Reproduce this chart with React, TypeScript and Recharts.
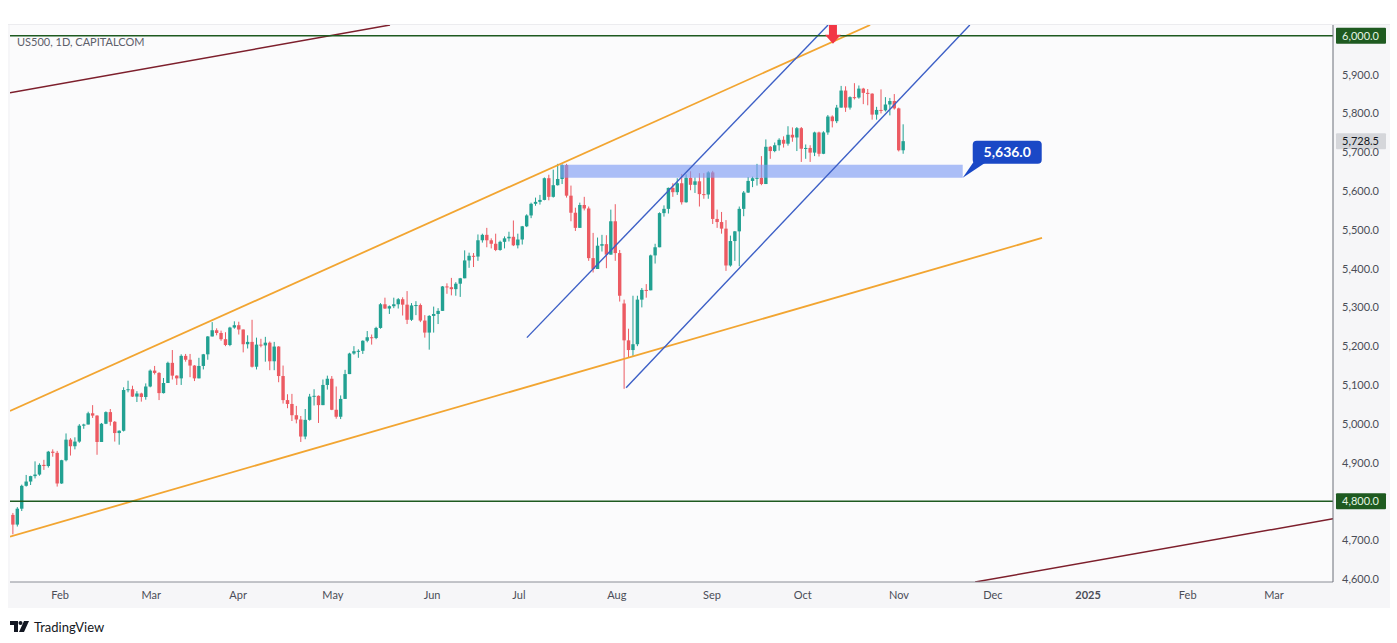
import React from "react";
import {
  ComposedChart,
  Bar,
  XAxis,
  YAxis,
  ReferenceLine,
  ReferenceArea,
  ReferenceDot
} from "recharts";

// layout
const W = 1397;
const H = 643;
const PLOT_L = 10;
const PLOT_T = 25;
const PLOT_R = 1333;
const PLOT_B = 582;

const UP = "#22a192";
const DOWN = "#ec5a62";
const FONT = "Lato, 'Open Sans', sans-serif";

// daily candles, US500 (17 Jan 2024 -> 1 Nov 2024), one entry per trading day
const opens = [
  4765, 4740, 4781, 4840, 4851, 4865, 4869, 4894, 4891, 4928, 4925,
  4846, 4906, 4959, 4942, 4954, 4995, 4998, 5027, 5021, 4953, 5000, 5030, 5005, 4976, 4982, 5087, 5089, 5070, 5078, 5069,
  5096, 5137, 5131, 5079, 5105, 5157, 5124, 5117, 5175, 5165, 5150, 5117, 5149, 5179, 5225, 5241, 5234, 5218, 5203, 5248,
  5254, 5243, 5205, 5211, 5147, 5204, 5202, 5209, 5161, 5199, 5123, 5061, 5051, 5022, 5011, 4967, 5010, 5070, 5072, 5048, 5100, 5116,
  5036, 5018, 5064, 5128, 5181, 5187, 5188, 5214, 5223, 5221, 5247, 5308, 5297, 5303, 5308, 5321, 5307, 5268, 5305, 5306, 5266, 5235,
  5278, 5283, 5291, 5354, 5352, 5347, 5361, 5375, 5421, 5433, 5431, 5473, 5487, 5473, 5464, 5448, 5469, 5478, 5482,
  5460, 5475, 5509, 5537, 5567, 5572, 5577, 5633, 5585, 5615, 5631, 5667, 5588, 5544, 5505, 5564, 5555, 5427, 5399, 5459, 5463, 5436,
  5522, 5440, 5310, 5215, 5190, 5205, 5320, 5345, 5344, 5434, 5455, 5543, 5554, 5608, 5597, 5620, 5571, 5634, 5616, 5625, 5592, 5591,
  5648, 5528, 5520, 5503, 5408, 5471, 5496, 5554, 5596, 5626, 5633, 5634, 5618, 5714, 5703, 5718, 5732, 5722, 5745, 5738,
  5762, 5709, 5711, 5699, 5751, 5696, 5751, 5792, 5780, 5815, 5859, 5815, 5842, 5841, 5864, 5853, 5851, 5797, 5809, 5808, 5823, 5832, 5813,
  5705
];
const highs = [
  4770, 4785, 4843, 4868, 4866, 4903, 4898, 4907, 4930, 4934, 4930,
  4907, 4975, 4963, 4965, 4999, 5000, 5031, 5048, 5022, 5002, 5032, 5038, 5007, 4983, 5094, 5111, 5098, 5084, 5080, 5104,
  5140, 5149, 5133, 5118, 5160, 5190, 5125, 5179, 5180, 5180, 5151, 5170, 5180, 5226, 5262, 5246, 5240, 5236, 5250, 5264,
  5263, 5243, 5228, 5268, 5222, 5219, 5224, 5212, 5211, 5200, 5150, 5076, 5077, 5046, 5020, 5038, 5077, 5089, 5073, 5114, 5124, 5123,
  5096, 5073, 5139, 5183, 5200, 5192, 5215, 5239, 5230, 5250, 5311, 5325, 5305, 5325, 5324, 5326, 5342, 5311, 5316, 5310, 5280, 5280,
  5302, 5298, 5355, 5362, 5376, 5365, 5376, 5447, 5441, 5440, 5488, 5490, 5505, 5478, 5490, 5472, 5483, 5495, 5524,
  5490, 5510, 5540, 5570, 5583, 5590, 5635, 5642, 5655, 5670, 5669, 5670, 5614, 5557, 5570, 5585, 5560, 5492, 5480, 5487, 5486, 5552,
  5566, 5448, 5320, 5245, 5330, 5330, 5350, 5360, 5436, 5464, 5545, 5563, 5609, 5620, 5633, 5644, 5643, 5651, 5635, 5646, 5646, 5651,
  5652, 5552, 5546, 5525, 5485, 5497, 5560, 5600, 5636, 5637, 5670, 5690, 5733, 5716, 5725, 5736, 5741, 5767, 5764, 5765,
  5765, 5720, 5718, 5753, 5753, 5754, 5796, 5795, 5822, 5871, 5870, 5844, 5878, 5872, 5866, 5863, 5852, 5817, 5862, 5842, 5840, 5850, 5815,
  5772
];
const lows = [
  4715, 4735, 4775, 4838, 4842, 4859, 4866, 4881, 4887, 4915, 4838,
  4845, 4903, 4918, 4934, 4951, 4987, 4998, 5015, 4920, 4953, 4999, 4995, 4954, 4946, 4980, 5081, 5069, 5056, 5057, 5062,
  5094, 5127, 5061, 5078, 5105, 5114, 5100, 5100, 5160, 5120, 5110, 5117, 5140, 5165, 5225, 5228, 5214, 5200, 5200, 5245,
  5230, 5184, 5194, 5145, 5140, 5197, 5160, 5138, 5138, 5107, 5052, 5040, 5007, 5001, 4953, 4960, 5008, 5047, 5002, 5048, 5088, 5035,
  5013, 5012, 5064, 5128, 5178, 5170, 5180, 5210, 5204, 5218, 5245, 5296, 5283, 5298, 5297, 5279, 5257, 5265, 5280, 5262, 5222, 5191,
  5235, 5257, 5291, 5335, 5331, 5330, 5327, 5375, 5402, 5404, 5420, 5467, 5455, 5452, 5445, 5446, 5452, 5470, 5458,
  5452, 5462, 5507, 5530, 5562, 5565, 5576, 5576, 5583, 5614, 5618, 5583, 5522, 5497, 5505, 5550, 5420, 5390, 5399, 5444, 5401, 5436,
  5420, 5315, 5090, 5170, 5175, 5200, 5300, 5325, 5344, 5413, 5455, 5534, 5542, 5585, 5590, 5565, 5570, 5602, 5595, 5560, 5580, 5580,
  5515, 5505, 5490, 5394, 5405, 5420, 5406, 5535, 5595, 5610, 5614, 5615, 5618, 5683, 5700, 5704, 5712, 5717, 5727, 5703,
  5675, 5683, 5675, 5690, 5689, 5695, 5745, 5764, 5775, 5815, 5804, 5810, 5836, 5838, 5824, 5821, 5784, 5784, 5800, 5805, 5795, 5810, 5702,
  5696
];
const closes = [
  4740, 4781, 4840, 4851, 4865, 4869, 4894, 4891, 4928, 4925, 4846,
  4906, 4959, 4942, 4954, 4995, 4998, 5027, 5021, 4953, 5000, 5030, 5005, 4976, 4982, 5087, 5089, 5070, 5078, 5069, 5096,
  5137, 5131, 5079, 5105, 5157, 5124, 5117, 5175, 5165, 5150, 5117, 5149, 5179, 5225, 5241, 5234, 5218, 5203, 5248, 5254,
  5243, 5205, 5211, 5147, 5204, 5202, 5209, 5161, 5199, 5123, 5061, 5051, 5022, 5011, 4967, 5010, 5070, 5072, 5048, 5100, 5116, 5036,
  5018, 5064, 5128, 5181, 5187, 5188, 5214, 5223, 5221, 5247, 5308, 5297, 5303, 5308, 5321, 5307, 5268, 5305, 5306, 5266, 5235, 5278,
  5283, 5291, 5354, 5352, 5347, 5361, 5375, 5421, 5433, 5431, 5473, 5487, 5473, 5464, 5448, 5469, 5478, 5482, 5460,
  5475, 5509, 5537, 5567, 5572, 5577, 5633, 5585, 5615, 5631, 5667, 5588, 5544, 5505, 5564, 5555, 5427, 5399, 5459, 5463, 5436, 5522,
  5440, 5330, 5215, 5190, 5205, 5320, 5345, 5344, 5434, 5455, 5543, 5554, 5608, 5597, 5620, 5571, 5634, 5616, 5625, 5592, 5591, 5648,
  5528, 5520, 5503, 5408, 5471, 5496, 5554, 5596, 5626, 5633, 5634, 5618, 5714, 5703, 5718, 5732, 5722, 5745, 5738, 5762,
  5709, 5711, 5699, 5751, 5696, 5751, 5792, 5780, 5815, 5859, 5815, 5842, 5841, 5864, 5853, 5851, 5797, 5809, 5808, 5823, 5832, 5813, 5705,
  5728.5
];

// x axis: trading-day index of each month label
const monthTicks = [10.6, 31.2, 50.8, 72.2, 94.6, 114.2, 136.3, 157.8, 178.3, 200, 221.2, 242.7, 265.2, 284.7];
const monthLabels = ["Feb", "Mar", "Apr", "May", "Jun", "Jul", "Aug", "Sep", "Oct", "Nov", "Dec", "2025", "Feb", "Mar"];
const priceTicks = [4600, 4700, 4800, 4900, 5000, 5100, 5200, 5300, 5400, 5500, 5600, 5700, 5800, 5900, 6000];

const lastPrice = 5728.5;
const levels = [6000, 4800];
const zoneX = [123.6, 214.4];
const zonePrice = [5634, 5668];
const zoneLabel = "5,636.0";
const arrowAt = { x: 185.1, y: 6000 };

// drawn trend lines: [index, price] pairs
const maroonLines = [
  [[-0.7, 5853], [85.1, 6028]],
  [[217.2, 4592], [298, 4755]]
];
const orangeLines = [
  [[-0.7, 5033], [193.5, 6028]],
  [[-0.7, 4709], [232.3, 5479]]
];
const blueLines = [
  [[116.0, 5222], [184.0, 6028]],
  [[138.4, 5093], [216.0, 6028]]
];

const data = opens.map((o, i) => ({
  i,
  open: o,
  high: highs[i],
  low: lows[i],
  close: closes[i],
  range: [lows[i], highs[i]]
}));

const fmt = (v: number) =>
  v.toLocaleString("en-US", { minimumFractionDigits: 1, maximumFractionDigits: 1 });

function Candle(props: any) {
  const { x, y, width, height, payload } = props;
  if (!payload || x == null || y == null || isNaN(x) || isNaN(y)) return null;
  const { open, close, high, low } = payload;
  const cx = x + width / 2;
  const top = Math.min(y, y + height);
  const h = Math.abs(height);
  const span = high - low || 1;
  const py = (v: number) => top + ((high - v) / span) * h;
  const color = close >= open ? UP : DOWN;
  const bTop = py(Math.max(open, close));
  const bBot = py(Math.min(open, close));
  return (
    <g>
      <line x1={cx} x2={cx} y1={top} y2={top + h} stroke={color} strokeWidth={1} />
      <rect x={cx - 1.7} y={bTop} width={3.4} height={Math.max(1, bBot - bTop)} fill={color} />
    </g>
  );
}

function XTick(props: any) {
  const { x, payload } = props;
  const idx = monthTicks.indexOf(payload.value);
  const label = monthLabels[idx];
  return (
    <text x={x} y={PLOT_B + 17} textAnchor="middle" fontSize={11} fontFamily={FONT}
      fill="#4a4d57" fontWeight={label === "2025" ? 700 : 400}>
      {label}
    </text>
  );
}

function YTick(props: any) {
  const { y, payload } = props;
  // the level tags already show these values
  if (levels.includes(payload.value)) return null;
  return (
    <text x={PLOT_R + 9} y={y + 4} fontSize={11} fontFamily={FONT} fill="#4a4d57">
      {fmt(payload.value)}
    </text>
  );
}

function priceTag(value: number, bg: string, fg: string) {
  return (p: any) => {
    const vb = p.viewBox || {};
    const yy = vb.y;
    const x0 = PLOT_R + 3;
    return (
      <g>
        <rect x={x0} y={yy - 8} width={50} height={16} fill={bg} rx={1} />
        <text x={x0 + 6} y={yy + 4} fontSize={11} fontFamily={FONT} fill={fg}>{fmt(value)}</text>
      </g>
    );
  };
}

function Callout(props: any) {
  const { cx, cy } = props;
  const bx = cx + 10;
  const by = cy - 37;
  const bw = 69;
  const bh = 23;
  const c = "#1a48c6";
  return (
    <g>
      <path d={`M${cx},${cy} L${bx + 1},${by + bh - 2} L${bx + 14},${by + bh - 2} Z`} fill={c} />
      <rect x={bx} y={by} width={bw} height={bh} rx={4} fill={c} />
      <text x={bx + bw / 2} y={by + bh / 2 + 5} textAnchor="middle" fill="#fff" fontSize={14}
        fontWeight={700} fontFamily={FONT}>{zoneLabel}</text>
    </g>
  );
}

function DownArrow(props: any) {
  const { cx, cy } = props;
  const top = PLOT_T;
  const tip = cy + 8;
  const neck = tip - 9;
  return (
    <path
      d={`M${cx - 4},${top} L${cx + 4},${top} L${cx + 4},${neck} L${cx + 8},${neck} L${cx},${tip} L${cx - 8},${neck} L${cx - 4},${neck} Z`}
      fill="#f23645"
    />
  );
}

function segLines(list: number[][][], color: string, width: number) {
  return list.map((s, k) => (
    <ReferenceLine
      key={color + k}
      segment={[{ x: s[0][0], y: s[0][1] }, { x: s[1][0], y: s[1][1] }]}
      stroke={color}
      strokeWidth={width}
      ifOverflow="hidden"
    />
  ));
}

function TvLogo() {
  return (
    <div style={{ position: "absolute", left: 10, top: 619, display: "flex", alignItems: "center" }}>
      <svg width={20} height={12} viewBox="0 0 20 12">
        <path d="M0 0h8v11H4V4H0z" fill="#131722" />
        <circle cx={10.5} cy={2} r={2} fill="#131722" />
        <path d="M14 0h5l-5 11h-5z" fill="#131722" />
      </svg>
      <span style={{ marginLeft: 4, fontFamily: FONT, fontSize: 13, color: "#131722" }}>TradingView</span>
    </div>
  );
}

export default function App() {
  return (
    <div style={{ position: "fixed", left: 0, top: 0, width: W, height: H, background: "#fff", overflow: "hidden" }}>
      {/* panel backgrounds */}
      <div style={{ position: "absolute", left: PLOT_L - 2, top: PLOT_T - 1, width: 1390 - PLOT_L + 2, height: 607 - PLOT_T + 1, background: "#f6f6f8", borderTop: "1px solid #ececef" }} />
      <div style={{ position: "absolute", left: PLOT_L, top: PLOT_T, width: PLOT_R - PLOT_L, height: PLOT_B - PLOT_T, background: "#fbfbfc" }} />
      <div style={{ position: "absolute", left: 17, top: 35, fontFamily: FONT, fontSize: 11, color: "#5d606b" }}>
        US500, 1D, CAPITALCOM
      </div>
      <div style={{ position: "absolute", left: 0, top: 0 }}>
        <ComposedChart
          width={W}
          height={H}
          data={data}
          margin={{ top: PLOT_T, right: W - PLOT_R - 57, bottom: H - PLOT_B - 25, left: PLOT_L }}
        >
          <XAxis
            type="number"
            dataKey="i"
            domain={[-0.7, 298]}
            allowDataOverflow
            ticks={monthTicks}
            interval={0}
            height={25}
            tickLine={false}
            axisLine={{ stroke: "#8a8d96" }}
            tick={<XTick />}
          />
          <YAxis
            orientation="right"
            domain={[4592, 6028]}
            allowDataOverflow
            ticks={priceTicks}
            interval={0}
            width={57}
            tickLine={false}
            axisLine={{ stroke: "#6b6e78" }}
            tick={<YTick />}
          />
          <Bar dataKey="range" barSize={4} isAnimationActive={false} shape={(p: any) => <Candle {...p} />} />
          <ReferenceArea
            x1={zoneX[0]}
            x2={zoneX[1]}
            y1={zonePrice[0]}
            y2={zonePrice[1]}
            fill="#7f9cf5"
            fillOpacity={0.65}
            stroke="none"
            ifOverflow="hidden"
            zIndex={350}
          />
          {segLines(maroonLines, "#7d1f2c", 1.5)}
          {segLines(orangeLines, "#f2a531", 1.8)}
          {segLines(blueLines, "#3c5fc6", 1.4)}
          {levels.map((lv) => (
            <ReferenceLine key={lv} y={lv} stroke="#1e5a20" strokeWidth={1.5}
              label={priceTag(lv, "#1e5a20", "#e3f5e3")} />
          ))}
          <ReferenceLine y={lastPrice} stroke="#000" strokeOpacity={0}
            label={priceTag(lastPrice, "#d5d6da", "#131722")} />
          <ReferenceDot x={zoneX[1]} y={zonePrice[0]} r={0} ifOverflow="visible" shape={(p: any) => <Callout {...p} />} />
          <ReferenceDot x={arrowAt.x} y={arrowAt.y} r={0} ifOverflow="visible" shape={(p: any) => <DownArrow {...p} />} />
        </ComposedChart>
      </div>
      <TvLogo />
    </div>
  );
}
